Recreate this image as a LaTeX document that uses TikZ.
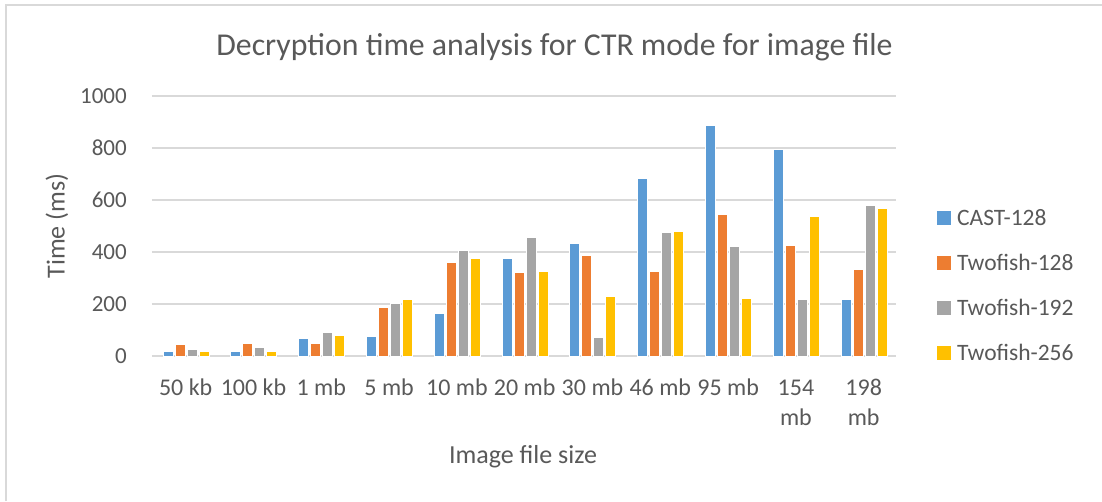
\documentclass[tikz,border=0pt]{standalone}
\usepackage{fontspec}
\setmainfont{Carlito}
\definecolor{txt}{HTML}{595959}
\definecolor{grid}{HTML}{D9D9D9}
\definecolor{ser0}{HTML}{5B9BD5}
\definecolor{ser1}{HTML}{ED7D31}
\definecolor{ser2}{HTML}{A5A5A5}
\definecolor{ser3}{HTML}{FFC000}
\tikzset{
  ticklab/.style={text=txt,inner sep=0pt,font=\fontsize{23}{28}\selectfont},
  catlab/.style={text=txt,inner sep=0pt,anchor=base,font=\fontsize{24}{29}\selectfont},
  legtxt/.style={text=txt,inner sep=0pt,anchor=base west,font=\fontsize{23.5}{28}\selectfont},
  legsq/.style={inner sep=0pt,minimum size=14pt},
  gridline/.style={draw=grid,line width=1.4pt},
  bar/.style={draw=white,line width=0.6pt}
}
\begin{document}
\begin{tikzpicture}[x=1pt,y=-1pt]
\useasboundingbox (0,0) rectangle (1102,501);
\fill[white] (0,0) rectangle (1102,501);
% chart border (left and top)
\coordinate (bl) at (6,501);
\coordinate (tl) at (6,5);
\coordinate (tr) at (1102,5);
\draw[draw=grid,line width=1.4pt] (bl) -- (tl) -- (tr);
% title
\node[text=txt,inner sep=0pt,anchor=base,font=\fontsize{31.8}{38}\selectfont] (title) at (554.5,55) {Decryption time analysis for CTR mode for image file};
% gridlines and tick labels
\foreach \v in {0,200,...,1000}{
  \pgfmathsetmacro\yy{356-0.26*\v}
  \coordinate (g\v a) at (151.8,\yy);
  \coordinate (g\v b) at (895.7,\yy);
  \draw[gridline] (g\v a) -- (g\v b);
  \node[ticklab,anchor=east] (t\v) at (127,\yy) {\v};
}
% bars
\foreach \i/\a/\b/\c/\d in {0/18/45/24/18,1/18/49/32/20,2/70/50/90/81,3/77/186/204/217,4/164/359/405/377,5/374/322/455/327,6/435/387/72/229,7/682/327/476/478,8/888/544/422/223,9/794/424/219/536,10/219/335/579/567}{
  \pgfmathsetmacro\cx{151.8+67.8*(\i+0.5)}
  \foreach \v [count=\k from 0] in {\a,\b,\c,\d}{
    \pgfmathsetmacro\lx{\cx-22.75+12*\k}
    \pgfmathsetmacro\rx{\lx+10}
    \pgfmathsetmacro\ty{356-0.26*\v}
    \filldraw[bar,fill=ser\k] (\lx,356) rectangle (\rx,\ty);
  }
}
% category labels
\foreach \i/\lab in {0/50 kb,1/100 kb,2/1 mb,3/5 mb,4/10 mb,5/20 mb,6/30 mb,7/46 mb,8/95 mb}{
  \pgfmathsetmacro\cx{151.8+67.8*(\i+0.5)}
  \node[catlab] (c\i) at (\cx,395.7) {\lab};
}
\foreach \i/\lab in {9/154,10/198}{
  \pgfmathsetmacro\cx{151.8+67.8*(\i+0.5)}
  \node[catlab] (c\i) at (\cx,395.7) {\lab};
  \node[catlab] (c\i m) at (\cx,425) {mb};
}
% axis titles
\node[text=txt,inner sep=0pt,anchor=base,font=\fontsize{26}{30}\selectfont] (xt) at (523,463.3) {Image file size};
\node[text=txt,inner sep=0pt,rotate=90,font=\fontsize{26}{30}\selectfont] (yt) at (57,226) {Time (ms)};
% legend
\foreach \k/\lab/\yy in {0/CAST-128/218,1/Twofish-128/263,2/Twofish-192/308,3/Twofish-256/353}{
  \node[legsq,fill=ser\k] (ls\k) at (944,\yy) {};
  \node[legtxt] (lt\k) at (957,\yy+7.5) {\lab};
}
\end{tikzpicture}
\end{document}
